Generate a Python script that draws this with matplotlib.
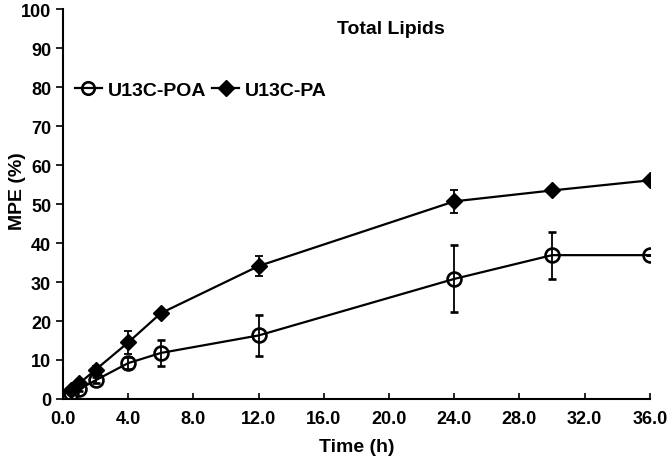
import matplotlib
matplotlib.use("Agg")
import matplotlib.pyplot as plt
from matplotlib.lines import Line2D

plt.rcParams["font.family"] = ["Liberation Sans", "DejaVu Sans"]
plt.rcParams["font.weight"] = "bold"

TIME = [0.5, 1, 2, 4, 6, 12, 24, 30, 36]
POA_MEAN = [1.5, 2.5, 4.8, 9.2, 11.8, 16.3, 30.8, 36.9, 36.9]
POA_ERR = [0.3, 0.5, 0.8, 1.5, 3.3, 5.2, 8.6, 6.0, 0.0]
PA_MEAN = [2.3, 4.0, 7.5, 14.5, 22.0, 34.1, 50.7, 53.5, 56.1]
PA_ERR = [0.3, 0.5, 1.0, 3.0, 0.8, 2.5, 3.0, 0.0, 0.0]
XTICKS = [0, 4, 8, 12, 16, 20, 24, 28, 32, 36]
YTICKS = list(range(0, 101, 10))

fig = plt.figure(figsize=(6.7, 4.64), dpi=100)
ax = fig.add_axes([0.094, 0.138, 0.876, 0.84])

ax.errorbar(TIME, POA_MEAN, yerr=POA_ERR, color="black", lw=1.6,
            marker="o", ms=10, mfc="none", mec="black", mew=1.9,
            elinewidth=1.3, capsize=3, capthick=1.3)
ax.errorbar(TIME, PA_MEAN, yerr=PA_ERR, color="black", lw=1.6,
            marker="D", ms=8.5, mfc="black", mec="black",
            elinewidth=1.3, capsize=3, capthick=1.3)

ax.set_xlim(0, 36)
ax.set_ylim(0, 100)
ax.set_xticks(XTICKS)
ax.set_xticklabels([f"{t:.1f}" for t in XTICKS])
ax.set_yticks(YTICKS)
ax.tick_params(axis="both", labelsize=13)
ax.tick_params(axis="x", length=4, width=1.2, direction="in", pad=8)
ax.tick_params(axis="y", length=5, width=1.2, direction="out")
for lbl in ax.get_xticklabels() + ax.get_yticklabels():
    lbl.set_fontweight("bold")

ax.spines["top"].set_visible(False)
ax.spines["right"].set_visible(False)
ax.spines["left"].set_linewidth(1.5)
ax.spines["bottom"].set_linewidth(1.5)
for s in ax.spines.values():
    s.set_clip_on(False)

ax.set_xlabel("Time (h)", fontsize=14, fontweight="bold", labelpad=8)
ax.set_ylabel("MPE (%)", fontsize=14, fontweight="bold")
ax.yaxis.set_label_coords(-0.063, 0.535)
ax.text(20.1, 95, "Total Lipids", fontsize=14, fontweight="bold",
        ha="center", va="center")

handles = [
    Line2D([], [], color="black", lw=1.6, marker="o", ms=9, mfc="none",
           mec="black", mew=1.9),
    Line2D([], [], color="black", lw=1.6, marker="D", ms=8, mfc="black",
           mec="black"),
]
leg = ax.legend(handles, ["U13C-POA", "U13C-PA"], loc="upper left",
                bbox_to_anchor=(-0.01, 0.86), ncol=2, frameon=False,
                fontsize=14, handlelength=1.4, handletextpad=0.3,
                columnspacing=0.3)
for t in leg.get_texts():
    t.set_fontweight("bold")

fig.savefig("out.png", dpi=100)
